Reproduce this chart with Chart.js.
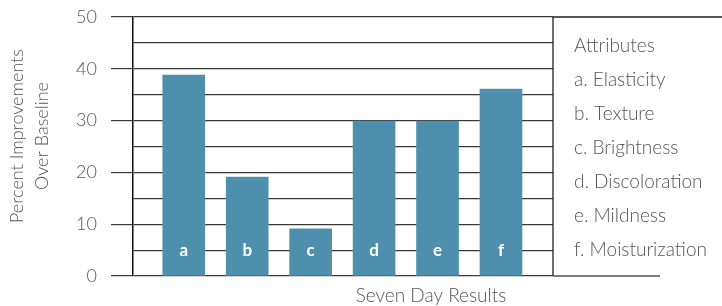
<!DOCTYPE html>
<html>
<head>
<meta charset="utf-8">
<script src="https://cdn.jsdelivr.net/npm/chart.js@4/dist/chart.umd.min.js"></script>
<style>
  html, body { margin: 0; padding: 0; background: #fff; }
  #wrap { position: relative; width: 722px; height: 306px; }
</style>
</head>
<body>
<div id="wrap"><canvas id="chart"></canvas></div>
<script>
// ── Data ───────────────────────────────────────────────
const CATEGORIES  = ['a', 'b', 'c', 'd', 'e', 'f'];
const VALUES      = [38.8, 19.1, 9.1, 29.9, 29.9, 36.1];
const LEGEND_HEAD = 'Attributes';
const LEGEND_ITEMS = ['a. Elasticity', 'b. Texture', 'c. Brightness', 'd. Discoloration', 'e. Mildness', 'f. Moisturization'];
const Y_TITLE     = ['Percent Improvements', 'Over Baseline'];
const X_TITLE     = 'Seven Day Results';

const FONT      = 'Lato';
const TEXT_COL  = '#555';
const BAR_COL   = '#4f8fae';
const LINE_COL  = '#3a3a3a';

// ── Plugins ────────────────────────────────────────────
const _decorPlugin = {
  id: 'decor',
  afterDraw(chart) {
    const { ctx, chartArea: { right, top, bottom } } = chart;
    ctx.save();

    // box around legend: top line runs to the edge, bottom stops short
    ctx.strokeStyle = '#222';
    ctx.lineWidth = 1.3;
    ctx.beginPath();
    ctx.moveTo(right, top); ctx.lineTo(722, top);
    ctx.moveTo(right, top); ctx.lineTo(right, bottom);
    ctx.stroke();
    ctx.strokeStyle = '#555';
    ctx.beginPath();
    ctx.moveTo(right, bottom); ctx.lineTo(660, bottom);
    ctx.stroke();

    // legend text
    ctx.fillStyle = TEXT_COL;
    ctx.font = `300 19px ${FONT}`;
    ctx.textAlign = 'left';
    ctx.textBaseline = 'middle';
    [LEGEND_HEAD, ...LEGEND_ITEMS].forEach((t, i) => ctx.fillText(t, 574, 46 + i * 34));

    // x title
    ctx.textAlign = 'center';
    ctx.fillText(X_TITLE, 431, 296);

    // y title (two rotated lines)
    ctx.font = `300 18px ${FONT}`;
    ctx.translate(0, 136);
    ctx.rotate(-Math.PI / 2);
    ctx.fillText(Y_TITLE[0], 0, 17);
    ctx.fillText(Y_TITLE[1], 0, 42);
    ctx.setTransform(1, 0, 0, 1, 0, 0);

    // bar letters
    const meta = chart.getDatasetMeta(0);
    ctx.fillStyle = '#fff';
    ctx.font = `bold 17px ${FONT}`;
    meta.data.forEach((bar, i) => ctx.fillText(CATEGORIES[i], bar.x, 251));

    ctx.restore();
  },
};

// ── Chart ──────────────────────────────────────────────
new Chart(document.getElementById('chart'), {
  type: 'bar',
  data: {
    datasets: [{
      data: CATEGORIES.map((c, i) => ({ x: i, y: VALUES[i] })),
      backgroundColor: BAR_COL,
      barThickness: 42,
    }],
  },
  options: {
    responsive: true,
    maintainAspectRatio: false,
    animation: false,
    layout: { padding: { top: 17, bottom: 30, right: 169, left: 0 } },
    plugins: { legend: { display: false }, tooltip: { enabled: false } },
    scales: {
      x: {
        type: 'linear',
        display: false,
        offset: false,
        min: -0.8,
        max: 5.82,
      },
      y: {
        min: 0,
        max: 50,
        // fixed axis width; drop the label overflow padding so the plot starts at the layout edge
        afterFit: (s) => { s.width = 133; s.paddingTop = 0; s.paddingBottom = 0; },
        border: { display: true, color: '#111', width: 1.5 },
        grid: {
          color: LINE_COL,
          lineWidth: 1.2,
          tickLength: 22,
          tickColor: (c) => (c.tick && c.tick.value % 10 === 0 ? LINE_COL : 'rgba(0,0,0,0)'),
        },
        ticks: {
          stepSize: 5,
          padding: 14,
          color: TEXT_COL,
          font: { family: FONT, size: 18, weight: '300' },
          callback: (v) => (v % 10 === 0 ? v : ''),
        },
      },
    },
  },
  plugins: [_decorPlugin],
});
</script>
</body>
</html>
